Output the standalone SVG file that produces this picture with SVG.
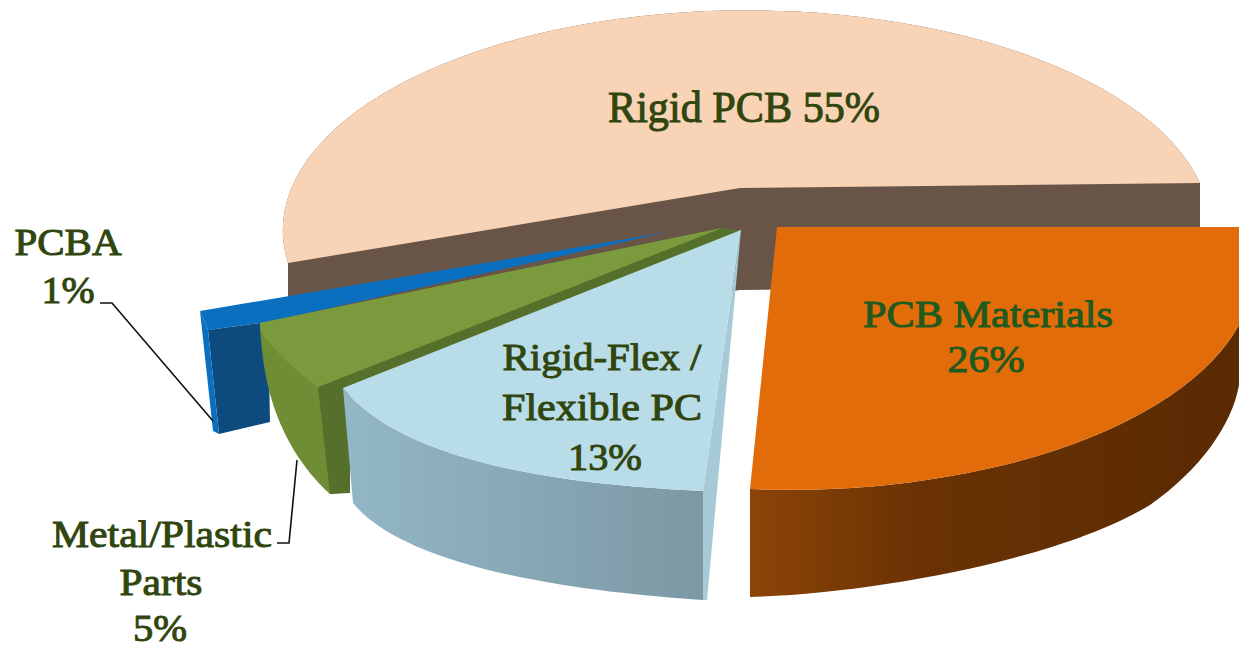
<svg xmlns="http://www.w3.org/2000/svg" width="1239" height="650" viewBox="0 0 1239 650">
<defs>
<style>
.lbl{font-family:"Liberation Serif","Times New Roman",Times,serif;font-size:38px;fill:#31450e;stroke:#31450e;stroke-width:1;text-anchor:middle}
.lead{fill:none;stroke:#111;stroke-width:1.6}
</style>
<linearGradient id="gBlueFront" x1="0" y1="0" x2="1" y2="0">
<stop offset="0" stop-color="#93b7c6"/><stop offset="1" stop-color="#7c98a4"/>
</linearGradient>
<linearGradient id="gOrSide" x1="750" y1="0" x2="1239" y2="0" gradientUnits="userSpaceOnUse">
<stop offset="0" stop-color="#8c4407"/><stop offset="0.35" stop-color="#6a3204"/><stop offset="1" stop-color="#5a2a03"/>
</linearGradient>
</defs>
<rect width="1239" height="650" fill="#ffffff"/>

<g id="rigid-pcb">
<path d="M288,263 A464 220 0 0 1 1200,183 L1200,286 L740,290 L288,365 Z" fill="#685548"/>
<path d="M288,263 A464 220 0 0 1 1200,183 L740,188 Z" fill="#f9d3b5"/>
</g>

<g id="pcba">
<path d="M200,311 L668,232 L268,322 L208,330 Z" fill="#0b6fbf"/>
<path d="M208,330 L268,322 L270,422 L219,434 Z" fill="#0d4b7e"/>
<path d="M200,311 L208,330 L219,434 L213,431 Z" fill="#0b6fbf"/>
</g>

<g id="metal-plastic">
<path d="M260,323 C262,372 272,440 330,494 L348,492 L345,392 L742,231 L722,228 Z" fill="#6e8d34"/>
<path d="M722,228 L318,387 L330,494 L350,493 L350,390 L742,231 Z" fill="#55702a"/>
<path d="M260,323 L722,228 L318,387 C295,370 272,350 260,330 Z" fill="#7a9a3d"/>
</g>

<g id="rigid-flex">
<path d="M343,388 C390,445 500,482 703,491 L703,600 C520,588 395,555 353,503 Z" fill="url(#gBlueFront)"/>
<path d="M741,230 L703,491 L703,600 L707,600 Z" fill="#a6cad6"/>
<path d="M741,230 L343,388 C390,445 500,482 703,491 Z" fill="#b9dde8"/>
</g>

<g id="pcb-materials">
<path d="M1239,325 A464 220 0 0 1 750,489 L750,597 C870,594 1060,560 1150,505 C1200,470 1232,425 1239,385 Z" fill="url(#gOrSide)"/>
<path d="M777,227 L1239,227 L1239,325 A464 220 0 0 1 750,489 Z" fill="#e36c0a"/>
</g>

<g id="connectors">
<polyline class="lead" points="100,303 112,303 213,421"/>
<polyline class="lead" points="277,543 289,543 297,460"/>
</g>

<g id="labels">
<text class="lbl" x="744" y="122" style="font-size:44px" textLength="272" lengthAdjust="spacingAndGlyphs">Rigid PCB 55%</text>
<text class="lbl" x="68" y="255" textLength="107" lengthAdjust="spacingAndGlyphs">PCBA</text>
<text class="lbl" x="68" y="303" textLength="53" lengthAdjust="spacingAndGlyphs">1%</text>
<text class="lbl" x="988" y="327" style="fill:#1f5a1e;stroke:#1f5a1e" textLength="250" lengthAdjust="spacingAndGlyphs">PCB Materials</text>
<text class="lbl" x="986" y="372" style="fill:#1f5a1e;stroke:#1f5a1e" textLength="77" lengthAdjust="spacingAndGlyphs">26%</text>
<text class="lbl" x="602" y="370" textLength="199" lengthAdjust="spacingAndGlyphs">Rigid-Flex /</text>
<text class="lbl" x="602" y="420" textLength="200" lengthAdjust="spacingAndGlyphs">Flexible PC</text>
<text class="lbl" x="605" y="470" textLength="74" lengthAdjust="spacingAndGlyphs">13%</text>
<text class="lbl" x="162" y="547" textLength="220" lengthAdjust="spacingAndGlyphs">Metal/Plastic</text>
<text class="lbl" x="161" y="595" textLength="83" lengthAdjust="spacingAndGlyphs">Parts</text>
<text class="lbl" x="160" y="641" textLength="54" lengthAdjust="spacingAndGlyphs">5%</text>
</g>
</svg>
